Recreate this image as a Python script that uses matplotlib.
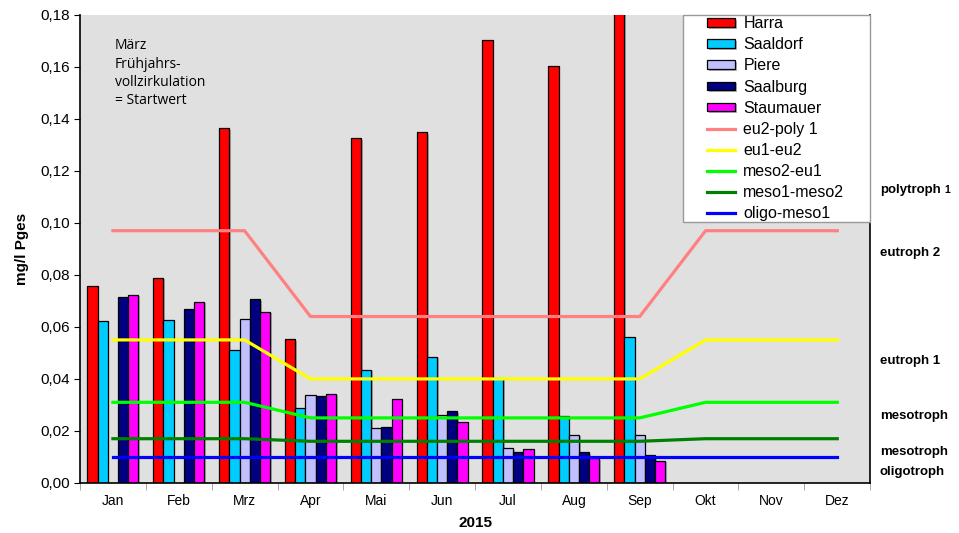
import numpy as np
import matplotlib
matplotlib.use("Agg")
import matplotlib.pyplot as plt
from matplotlib.patches import Rectangle
from matplotlib.ticker import FixedLocator, FuncFormatter
import matplotlib.patheffects as pe

plt.rcParams["font.family"] = ["Liberation Sans", "DejaVu Sans"]

months = ["Jan", "Feb", "Mrz", "Apr", "Mai", "Jun", "Jul", "Aug", "Sep", "Okt", "Nov", "Dez"]

# Messwerte (mg/l Pges), Jan..Sep
harra = [0.0757, 0.079, 0.1365, 0.0554, 0.1327, 0.135, 0.1704, 0.1604, 0.19]
saaldorf = [0.0624, 0.0628, 0.051, 0.0288, 0.0435, 0.0485, 0.0404, 0.0259, 0.0563]
piere = [np.nan, np.nan, 0.0632, 0.0337, 0.021, 0.0263, 0.0133, 0.0186, 0.0186]
saalburg = [0.0714, 0.0668, 0.0707, 0.0333, 0.0214, 0.0277, 0.012, 0.0118, 0.0109]
staumauer = [0.0724, 0.0697, 0.0658, 0.0343, 0.0324, 0.0235, 0.013, 0.0096, 0.0086]

# Grenzwerte der Trophiestufen, Jan..Dez
eu2_poly1 = [0.097, 0.097, 0.097, 0.064, 0.064, 0.064, 0.064, 0.064, 0.064, 0.097, 0.097, 0.097]
eu1_eu2 = [0.055, 0.055, 0.055, 0.040, 0.040, 0.040, 0.040, 0.040, 0.040, 0.055, 0.055, 0.055]
meso2_eu1 = [0.031, 0.031, 0.031, 0.025, 0.025, 0.025, 0.025, 0.025, 0.025, 0.031, 0.031, 0.031]
meso1_meso2 = [0.017, 0.017, 0.017, 0.016, 0.016, 0.016, 0.016, 0.016, 0.016, 0.017, 0.017, 0.017]
oligo_meso1 = [0.010] * 12

bars = [
    ("Harra", harra, "#FF0000"),
    ("Saaldorf", saaldorf, "#00CCFF"),
    ("Piere", piere, "#C0C0FF"),
    ("Saalburg", saalburg, "#000080"),
    ("Staumauer", staumauer, "#FF00FF"),
]
lines = [
    ("eu2-poly 1", eu2_poly1, "#FF8080"),
    ("eu1-eu2", eu1_eu2, "#FFFF00"),
    ("meso2-eu1", meso2_eu1, "#00FF00"),
    ("meso1-meso2", meso1_meso2, "#008000"),
    ("oligo-meso1", oligo_meso1, "#0000FF"),
]

fig = plt.figure(figsize=(9.59, 5.33), dpi=100)
ax = fig.add_axes([0.0834, 0.094, 0.824, 0.878])
ax.set_facecolor("#E0E0E0")

handles = []
w = 0.155
x_bar = np.arange(len(harra))
shadow = [pe.SimplePatchShadow(offset=(1.2, -1.2), shadow_rgbFace="#808080", alpha=0.6), pe.Normal()]
for i, (name, vals, col) in enumerate(bars):
    bc = ax.bar(x_bar + (i - 2) * w, vals, width=w, color=col, edgecolor="black",
                linewidth=0.9, label=name, zorder=2)
    for p in bc.patches:
        p.set_path_effects(shadow)
    handles.append(bc)

x_line = np.arange(len(months))
for name, vals, col in lines:
    ln, = ax.plot(x_line, vals, color=col, lw=2.3, label=name, zorder=3)
    handles.append(ln)

ax.set_xlim(-0.5, 11.5)
ax.set_ylim(0, 0.18)
ax.set_yticks(np.arange(0, 0.181, 0.02))
ax.yaxis.set_major_formatter(FuncFormatter(lambda v, p: f"{v:.2f}".replace(".", ",")))
ax.set_xticks(x_line)
ax.set_xticklabels(months)
ax.xaxis.set_minor_locator(FixedLocator(np.arange(-0.5, 11.6, 1)))
ax.tick_params(axis="x", which="major", length=0, labelsize=10, pad=8)
ax.tick_params(axis="x", which="minor", length=5, color="#999999")
ax.tick_params(axis="y", labelsize=11, length=4, direction="out")
for s in ["left", "bottom", "right"]:
    ax.spines[s].set_linewidth(1.2)
ax.spines["top"].set_visible(False)

ax.set_ylabel("mg/l Pges", fontsize=11, fontweight="bold", labelpad=8)
ax.set_xlabel("2015", fontsize=11, fontweight="bold", labelpad=6)

ax.text(0.044, 0.95, "März\nFrühjahrs-\nvollzirkulation\n= Startwert", transform=ax.transAxes,
        fontsize=10, family=["Open Sans", "DejaVu Sans"], va="top", ha="left", linespacing=1.3)

# Legendenkasten wie im Original (weiss, grauer Rand)
ax.add_patch(Rectangle((0.763, 0.558), 0.237, 0.442, transform=ax.transAxes,
                       facecolor="white", edgecolor="#999999", lw=1.0, zorder=4, clip_on=False))
leg = ax.legend(handles=handles, loc="upper left", bbox_to_anchor=(0.794, 0.997), fontsize=11.5,
                frameon=False, labelspacing=0.38, handlelength=1.75, handleheight=0.45,
                handletextpad=0.5, borderpad=0, borderaxespad=0)
leg.set_zorder(5)

# Trophiestufen rechts
right_labels = [
    ("polytroph", 0.1125),
    ("eutroph 2", 0.0883),
    ("eutroph 1", 0.0468),
    ("mesotroph", 0.0258),
    ("mesotroph", 0.0119),
    ("oligotroph", 0.0042),
]
for txt, yv in right_labels:
    t = ax.text(1.012, yv, txt, transform=ax.get_yaxis_transform(), fontsize=9.5,
                fontweight="bold", va="center", ha="left")
    if txt == "polytroph":
        ax.annotate("1", xy=(1, 0.5), xycoords=t, xytext=(3, 0), textcoords="offset points",
                    fontsize=7.5, fontweight="bold", va="center", ha="left")

fig.savefig("out.png", dpi=100)
